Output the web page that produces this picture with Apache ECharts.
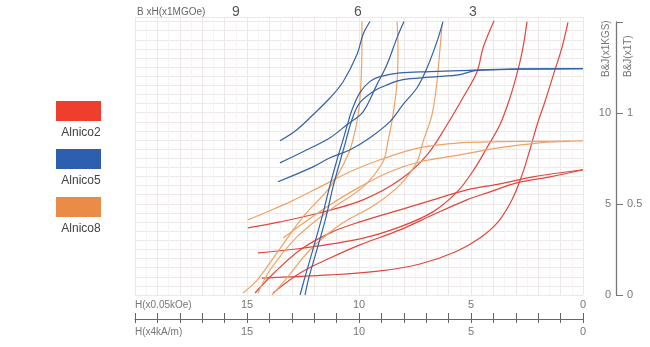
<!DOCTYPE html>
<html><head><meta charset="utf-8">
<script src="https://cdn.jsdelivr.net/npm/echarts@6/dist/echarts.min.js"></script>
<style>html,body{margin:0;padding:0;background:#fff}#c{width:650px;height:347px}</style>
</head><body><div id="c"></div>
<script>
// ---- data: [H (x0.05kOe), B (KGS)] ----
const legendNames = ['Alnico2', 'Alnico5', 'Alnico8'];
const hTickLabels = [0, 5, 10, 15];
const bTickLabels = [0, 5, 10];
const teslaTickLabels = ['0', '0.5', '1'];
const bhTopLabels = ['9', '6', '3'];

// Alnico5 (blue)
const a5_c1 = [[9.51,15.0],[9.82,14.29],[10.09,13.19],[10.71,11.70],[11.29,10.82],[12.05,9.89],[12.77,9.07],[13.53,8.46]];
const a5_c2 = [[7.99,15.0],[8.30,14.12],[8.75,12.64],[9.20,11.54],[9.82,10.05],[10.54,9.34],[11.29,8.63],[12.5,7.86],[13.53,7.25]];
const a5_c3 = [[6.25,15.0],[6.52,13.90],[6.96,12.47],[7.41,11.37],[8.04,10.44],[8.62,9.51],[9.51,8.63],[10.40,7.97],[11.29,7.53],[12.05,7.03],[13.62,6.21]];
const a5_d1 = [[0,12.42],[2.81,12.40],[5.49,12.31],[6.83,12.25],[8.17,12.18],[9.06,11.98],[9.51,11.72],[9.96,11.10],[10.31,10.16],[10.54,9.25],[10.71,8.52],[10.98,7.42],[11.29,6.04],[11.65,4.29],[12.10,2.31],[12.41,0.99],[12.63,0]];
const a5_d2 = [[0,12.42],[2.81,12.39],[4.82,12.31],[5.49,12.09],[6.83,11.95],[8.04,11.81],[8.84,11.48],[9.38,11.15],[9.96,10.55],[10.27,9.78],[10.49,8.90],[10.67,8.08],[10.89,7.14],[11.16,5.93],[11.47,4.29],[11.92,2.31],[12.23,0.99],[12.41,0]];

// Alnico8 (orange)
const a8_c1 = [[9.87,15.0],[9.87,13.57],[9.91,11.70],[10.0,10.27],[10.18,8.96],[10.49,7.69],[11.29,5.93],[12.5,4.29],[13.66,2.31],[14.55,0.82],[15.18,0.11]];
const a8_c2 = [[8.30,15.0],[8.26,13.57],[8.30,11.70],[8.48,9.89],[8.71,8.41],[8.93,7.31],[9.82,5.93],[11.29,4.67],[12.77,3.19],[13.97,1.37],[14.51,0.11]];
const a8_c3 = [[6.29,14.84],[6.38,13.57],[6.52,11.70],[6.74,9.89],[7.14,8.41],[7.41,7.31],[8.17,6.04],[9.29,4.95],[10.85,3.85],[12.19,2.47],[13.30,0.82],[13.88,0]];
const a8_d1 = [[0,8.46],[1.47,8.43],[3.71,8.41],[5.49,8.35],[7.28,8.08],[9.06,7.42],[10.40,6.76],[11.74,5.93],[13.08,5.11],[14.20,4.51],[14.96,4.12]];
const a8_d2 = [[0.58,8.42],[1.92,8.35],[3.71,8.08],[5.49,7.69],[7.28,7.31],[8.62,6.76],[9.96,5.93],[11.29,4.95],[12.41,4.01],[13.39,3.13]];

// Alnico2 (red)
const a2_c1 = [[3.97,15.05],[4.46,13.57],[4.73,12.25],[5.36,10.82],[6.07,9.34],[6.96,7.69],[8.17,6.32],[9.82,5.22],[11.74,4.51],[13.53,4.01],[14.96,3.68]];
const a2_c2 = [[2.5,15.0],[2.68,13.57],[2.90,12.36],[3.26,10.82],[3.71,9.34],[4.29,8.08],[4.82,6.97],[5.58,5.71],[6.70,4.56],[8.17,3.74],[9.96,3.08],[12.63,2.55],[14.51,2.31]];
const a2_c3 = [[0.67,14.95],[0.94,13.57],[1.25,12.36],[1.70,10.60],[2.05,9.34],[2.37,7.97],[2.72,6.59],[3.17,5.22],[3.79,4.01],[4.60,3.13],[5.71,2.36],[7.28,1.70],[9.06,1.32],[11.29,1.10],[14.33,0.93]];
const a2_d1 = [[0,6.87],[2.23,6.48],[3.71,6.10],[5.18,5.77],[6.70,5.22],[8.17,4.67],[9.96,4.01],[11.29,3.41],[12.63,2.47],[13.75,1.26],[14.64,0.11]];
const a2_d2 = [[0,6.87],[1.47,6.48],[2.95,6.15],[4.15,5.66],[5.18,5.22],[6.70,4.40],[8.17,3.57],[9.96,2.75],[11.29,2.03],[12.63,1.21],[13.84,0.11]];

const RED = '#e2463b', BLUE = '#3262a8', ORANGE = '#efa264';
const LEG_RED = '#ef3d2e', LEG_BLUE = '#2d5fae', LEG_ORANGE = '#eb8b48';
const FONT = 'Liberation Sans, Arial, sans-serif';

function curve(name, data, color) {
  return {type: 'line', name, data, smooth: 0.35, showSymbol: false, silent: true,
    xAxisIndex: 0, yAxisIndex: 0, lineStyle: {color, width: 1.2}, itemStyle: {color}};
}
const series = [
  curve('Alnico2', a2_c1, RED), curve('Alnico2', a2_c2, RED), curve('Alnico2', a2_c3, RED),
  curve('Alnico2', a2_d1, RED), curve('Alnico2', a2_d2, RED),
  curve('Alnico8', a8_c1, ORANGE), curve('Alnico8', a8_c2, ORANGE), curve('Alnico8', a8_c3, ORANGE),
  curve('Alnico8', a8_d1, ORANGE), curve('Alnico8', a8_d2, ORANGE),
  curve('Alnico5', a5_c1, BLUE), curve('Alnico5', a5_c2, BLUE), curve('Alnico5', a5_c3, BLUE),
  curve('Alnico5', a5_d1, BLUE), curve('Alnico5', a5_d2, BLUE)
];

const hFmt = v => (hTickLabels.indexOf(v) >= 0 ? String(v) : '');
const gridCol = '#eee8e8', minorCol = '#f7f4f4';

const legendColors = [LEG_RED, LEG_BLUE, LEG_ORANGE];
const graphic = [];
legendNames.forEach((n, i) => {
  const y0 = 101 + i * 48;
  graphic.push({type: 'rect', left: 56, top: y0, shape: {width: 45, height: 20}, style: {fill: legendColors[i]}});
  graphic.push({type: 'text', x: 81, y: y0 + 32, style: {text: n, fill: '#444', font: '12px ' + FONT, textAlign: 'center', textVerticalAlign: 'middle'}});
});
graphic.push({type: 'text', x: 137, y: 12, z: 100, style: {text: 'B xH(x1MGOe)', fill: '#666', font: '10px ' + FONT, textVerticalAlign: 'middle'}});
[236, 358, 473].forEach((x, i) => graphic.push({type: 'text', x, y: 12, style: {text: bhTopLabels[i], fill: '#555', font: '14px ' + FONT, textAlign: 'center', textVerticalAlign: 'middle'}}));
graphic.push({type: 'text', x: 135, y: 305, style: {text: 'H(x0.05kOe)', fill: '#777', font: '10px ' + FONT, textVerticalAlign: 'middle'}});
graphic.push({type: 'text', x: 135, y: 332, style: {text: 'H(x4kA/m)', fill: '#777', font: '10px ' + FONT, textVerticalAlign: 'middle'}});
graphic.push({type: 'text', x: 606, y: 77, rotation: Math.PI / 2, style: {text: 'B&J(x1KGS)', fill: '#777', font: '10px ' + FONT, textAlign: 'left', textVerticalAlign: 'middle'}});
graphic.push({type: 'text', x: 628, y: 77, rotation: Math.PI / 2, style: {text: 'B&J(x1T)', fill: '#777', font: '10px ' + FONT, textAlign: 'left', textVerticalAlign: 'middle'}});

const option = {
  animation: false,
  backgroundColor: '#fff',
  textStyle: {fontFamily: FONT},
  grid: [
    {left: 135, right: 67, top: 17, bottom: 52},
    {left: 616, width: 1, top: 22, bottom: 52}
  ],
  xAxis: [
    {gridIndex: 0, type: 'value', min: 0, max: 20, interval: 1, inverse: true,
      axisLine: {show: false}, axisTick: {show: false}, axisLabel: {show: false},
      splitLine: {show: true, lineStyle: {color: gridCol, width: 1}},
      minorTick: {show: false, splitNumber: 2}, minorSplitLine: {show: true, lineStyle: {color: minorCol, width: 1}}},
    {gridIndex: 0, type: 'value', min: 0, max: 20, interval: 1, inverse: true, position: 'bottom', offset: 24,
      axisLine: {show: true, lineStyle: {color: '#666', width: 1}},
      axisTick: {show: true, inside: true, length: 6, lineStyle: {color: '#666'}},
      axisLabel: {inside: true, margin: 9, formatter: hFmt, color: '#777', fontSize: 11},
      splitLine: {show: false}},
    {gridIndex: 0, type: 'value', min: 0, max: 20, interval: 1, inverse: true, position: 'bottom', offset: 24,
      axisLine: {show: false},
      axisTick: {show: true, inside: false, length: 4, lineStyle: {color: '#666'}},
      axisLabel: {inside: false, margin: 7, formatter: hFmt, color: '#777', fontSize: 11},
      splitLine: {show: false}},
    {gridIndex: 1, type: 'value', show: false}
  ],
  yAxis: [
    {gridIndex: 0, type: 'value', min: 0, max: 15.25, interval: 0.5,
      axisLine: {show: false}, axisTick: {show: false}, axisLabel: {show: false},
      splitLine: {show: true, lineStyle: {color: gridCol, width: 1}}},
    {gridIndex: 1, type: 'value', min: 0, max: 15, interval: 5, position: 'left',
      axisLine: {show: true, lineStyle: {color: '#777', width: 1.3}},
      axisTick: {show: true, inside: true, length: 7, lineStyle: {color: '#777'}},
      axisLabel: {margin: 5, color: '#777', fontSize: 11, formatter: v => (bTickLabels.indexOf(v) >= 0 ? String(v) : '')},
      splitLine: {show: false}},
    {gridIndex: 1, type: 'value', min: 0, max: 15, interval: 5, position: 'right',
      axisLine: {show: false}, axisTick: {show: false},
      axisLabel: {margin: 10, color: '#777', fontSize: 11, formatter: v => { const i = bTickLabels.indexOf(v); return i >= 0 ? teslaTickLabels[i] : ''; }},
      splitLine: {show: false}}
  ],
  graphic,
  series
};
const chart = echarts.init(document.getElementById('c'), null, {renderer: 'canvas'});
chart.setOption(option);
</script>
</body></html>
